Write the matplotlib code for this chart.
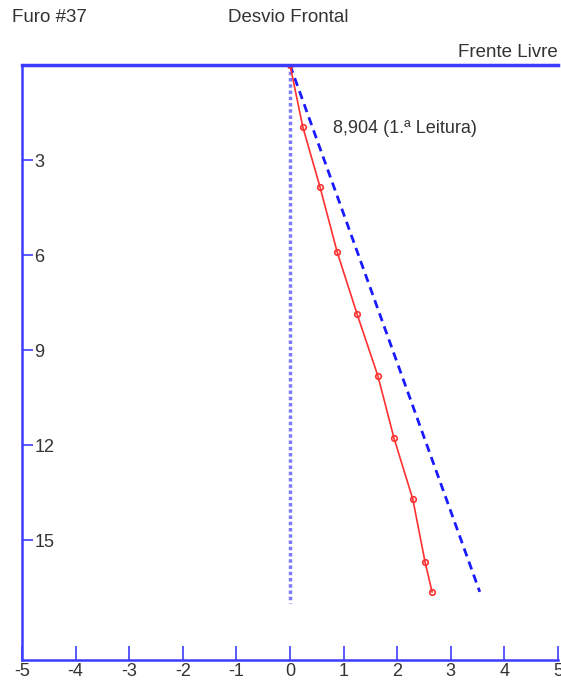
import matplotlib.pyplot as plt

plt.rcParams['font.family'] = ['Liberation Sans', 'DejaVu Sans']

# Red reading (1st reading), offset vs depth
red_x = [0.0, 0.24, 0.56, 0.88, 1.25, 1.64, 1.94, 2.29, 2.52, 2.65]
red_depth = [0.0, 1.96, 3.85, 5.9, 7.85, 9.81, 11.77, 13.69, 15.68, 16.62]

# Blue dashed design line
blue_x = [0.0, 3.54]
blue_depth = [0.0, 16.62]

# Vertical reference line
ref_x = [0.0, 0.0]
ref_depth = [0.0, 16.97]

x_ticks = [-5, -4, -3, -2, -1, 0, 1, 2, 3, 4, 5]
y_ticks = [3, 6, 9, 12, 15]

BLUE = '#3c3cff'
RED = '#ff3030'
TXT = '#333333'

fig = plt.figure(figsize=(5.61, 6.86), dpi=100)
ax = fig.add_axes([22 / 561, 1 - 660 / 686, 536 / 561, 595 / 686])

ax.plot(ref_x, ref_depth, color='#3535ff', lw=2.5, ls=(0, (1, 0.8)), alpha=0.65)
ax.plot(blue_x, blue_depth, color='#1a1aff', lw=2, ls=(0, (3, 2)))
ax.plot(red_x, red_depth, color=RED, lw=1.2, marker='o', ms=4, mfc='none', mec=RED, mew=1.2)

ax.set_xlim(-5, 5)
ax.set_ylim(18.77, 0)

ax.spines['right'].set_visible(False)
ax.spines['top'].set_color(BLUE)
ax.spines['top'].set_linewidth(2.5)
ax.spines['left'].set_color(BLUE)
ax.spines['left'].set_linewidth(1.8)
ax.spines['bottom'].set_color(BLUE)
ax.spines['bottom'].set_linewidth(1.8)

ax.set_xticks(x_ticks)
ax.set_xticklabels([str(v) for v in x_ticks])
ax.set_yticks(y_ticks)
ax.set_yticklabels([str(v) for v in y_ticks])
ax.tick_params(axis='x', direction='in', length=10, width=1.2, color=BLUE,
               labelsize=13, labelcolor=TXT, pad=2)
ax.tick_params(axis='y', direction='in', length=8, width=1.2, color=BLUE,
               labelsize=13, labelcolor=TXT, pad=-9)
for t in ax.get_yticklabels():
    t.set_ha('left')

ax.text(0.8, 2.0, '8,904 (1.ª Leitura)', fontsize=13, color=TXT, va='center', ha='left')
ax.text(1.0, 1.006, 'Frente Livre', transform=ax.transAxes, fontsize=13.5,
        color=TXT, ha='right', va='bottom')

fig.text(12 / 561, 1 - 18 / 686, 'Furo #37', fontsize=13.5, color=TXT, va='center', ha='left')
fig.text(288 / 561, 1 - 18 / 686, 'Desvio Frontal', fontsize=13.5, color=TXT, va='center', ha='center')

fig.savefig('out.png', dpi=100)
